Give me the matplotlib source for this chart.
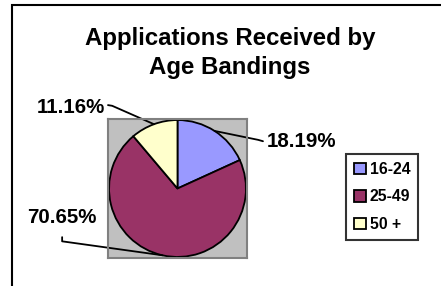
import numpy as np
import matplotlib
matplotlib.use("Agg")
import matplotlib.pyplot as plt
from matplotlib.patches import Rectangle

plt.rcParams['font.family'] = ['Liberation Sans', 'DejaVu Sans']
plt.rcParams['font.weight'] = 'bold'

# data
age_bands = ['16-24', '25-49', '50 +']
shares = [18.19, 70.65, 11.16]
colors = ['#9999FF', '#993366', '#FFFFCC']
title = 'Applications Received by\nAge Bandings'

W, H = 441, 286
fig = plt.figure(figsize=(W / 100, H / 100), dpi=100)
fig.patch.set_facecolor('white')

# outer chart border (runs off right and bottom)
fig.add_artist(Rectangle((12 / W, -0.1), 1.2, (H - 5) / H + 0.1,
                         transform=fig.transFigure, fill=False,
                         edgecolor='black', linewidth=1.5))

fig.text(230 / W, (H - 53) / H, title, ha='center', va='center',
         fontsize=17.3, fontweight='bold', linespacing=1.33)

# plot area (grey square)
ax = fig.add_axes([108 / W, (H - 258) / H, 139 / W, 139 / H])

r = 0.985
wedges, _ = ax.pie(shares, colors=colors, startangle=90, counterclock=False,
                   radius=r, wedgeprops=dict(edgecolor='black', linewidth=1.3))
ax.set_frame_on(True)
ax.set_facecolor('#C0C0C0')
for sp in ax.spines.values():
    sp.set_color('#808080')
    sp.set_linewidth(1.5)
ax.set_xticks([])
ax.set_yticks([])
ax.set_xlim(-1, 1)
ax.set_ylim(-1, 1)
ax.set_aspect('equal')

# label placement (data coords of pie axes)
label_pos = [(1.29, 0.68, 'left'), (-1.66, -0.42, 'center'), (-1.04, 1.16, 'right')]
leader_pts = [[(1.16, 0.70), (1.23, 0.68)],
              [(-1.66, -0.76), (-1.66, -0.70)],
              [(-0.94, 1.19), (-1.0, 1.20)]]

for w, s, (tx, ty, ha), pts in zip(wedges, shares, label_pos, leader_pts):
    mid = np.deg2rad((w.theta1 + w.theta2) / 2)
    ex, ey = r * np.cos(mid), r * np.sin(mid)
    xs = [ex] + [p[0] for p in pts]
    ys = [ey] + [p[1] for p in pts]
    ax.plot(xs, ys, color='black', lw=1.3, clip_on=False,
            solid_capstyle='round', solid_joinstyle='round')
    ax.text(tx, ty, f'{s:.2f}%', ha=ha, va='center', fontsize=14.8,
            fontweight='bold', clip_on=False)

leg = fig.legend(wedges, age_bands, loc='upper left',
                 bbox_to_anchor=(346 / W, (H - 154) / H),
                 prop={'weight': 'bold', 'size': 11.3},
                 frameon=True, fancybox=False, handlelength=0.75,
                 handleheight=0.75, handletextpad=0.25, labelspacing=0.8,
                 borderpad=0.5, borderaxespad=0)
leg.get_frame().set_edgecolor('black')
leg.get_frame().set_linewidth(1.5)
for h in leg.legend_handles:
    h.set_edgecolor('black')
    h.set_linewidth(1.3)

fig.savefig('out.png', dpi=100)
